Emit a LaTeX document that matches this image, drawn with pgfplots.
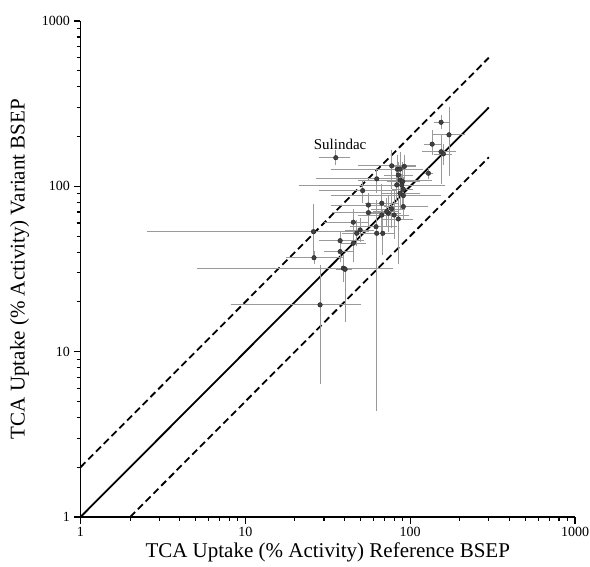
\documentclass[border=0pt]{standalone}
\usepackage{pgfplots}
\usepackage{pgfplotstable}
\pgfplotsset{compat=1.18}
\usepackage{fontspec}
\setmainfont{Liberation Serif}

% x y xlo xhi ylo yhi (end points of the error bars)
\pgfplotstableread{
x     y     xlo   xhi   ylo   yhi
35.4  149   29.1  41.8  139   160
154   244   144   167   229   259
172   205   140   206   120   290
136   180   126   148   160   210
154   162   123   183   107   200
159   157   145   172   140   175
129   120   126   133   115   125
77.3  133   49.7  104.5 100   160
83.6  127   34.5  115   105   150
86.8  127   75    100   95    155
92.2  132   80    105   115   150
84.8  117   72    100   100   135
62.7  111   27.7  86.8  95    125
86.8  109   50    130   90    125
90.2  107   75    110   80    135
82.9  102   22.0  156   85    120
51.5  94.2  29.1  79.1  82.7  104
90.9  87.9  34.2  148   70    110
86.8  90.8  70    110   75    105
90.9  96    80    100   85    108
55.8  77.1  34.5  70    68    88
67.3  79.1  55    82    60    100
90.9  75.4  72.1  123   65    88
55.8  69.3  35    75    60    80
67.3  67.1  50    90    52    85
73.8  68.8  60    85    55    85
79.9  67.1  65    95    50    90
84.8  63.5  70    100   35    100
77.3  73    60    90    58    92
45.2  60.7  31.2  54.5  52    70
62.1  57.0  45    80    40    80
49.7  54.5  42    58    48    62
47.4  52.0  40    55    45    60
25.9  53.2  2.64  54.5  37.6  75.4
62.7  52.0  55    72    4.56  75
68.2  52.0  60    78    40    70
37.6  46.9  29.1  50.8  42    52
45.2  45.3  39.3  52.0  35.9  52
37.6  40.3  31.2  44.2  36    45
26.1  37.0  18.2  37.6  35    39
39.3  32.0  5.31  75.5  27.2  37.6
40.3  31.5  37    43    15.7  32
28.4  19.2  8.46  48.5  6.65  32.2
88.9  102   75    105   90    115
72.1  70.4  62    82    60    82
}\bsep

\begin{document}
\begin{tikzpicture}
\path[use as bounding box] (-80.5pt,-49pt) rectangle (509.5pt,517pt);
\begin{axis}[
    scale only axis,
    width=494.5pt, height=496pt,
    xmode=log, ymode=log,
    xmin=1, xmax=1000, ymin=1, ymax=1000,
    axis lines*=left,
    axis line style={line width=1.3pt, -},
    tick align=outside,
    major tick length=7pt,
    minor tick length=4pt,
    every tick/.style={black, line width=1.1pt},
    xtick={1,10,100,1000}, xticklabels={1,10,100,1000},
    ytick={1,10,100,1000}, yticklabels={1,10,100,1000},
    minor xtick={2,3,4,5,6,7,8,9,20,30,40,50,60,70,80,90,200,300,400,500,600,700,800,900},
    minor ytick={2,3,4,5,6,7,8,9,20,30,40,50,60,70,80,90,200,300,400,500,600,700,800,900},
    /pgf/number format/assume math mode=true,
    tick label style={font=\fontsize{14}{16}\selectfont},
    xlabel={TCA Uptake (\% Activity) Reference BSEP},
    ylabel={TCA Uptake (\% Activity) Variant BSEP},
    every axis x label/.style={at={(axis description cs:0.5,-0.0706)}, anchor=center,
        font=\fontsize{21}{23}\selectfont},
    every axis y label/.style={at={(axis description cs:-0.123,0.5)}, rotate=90, anchor=center,
        font=\fontsize{21}{23}\selectfont},
    clip=false,
]
\addplot[black, line width=1.8pt] coordinates {(1,1) (300,300)};
\addplot[black, line width=1.8pt, dash pattern=on 7pt off 4pt] coordinates {(1,2) (300,600)};
\addplot[black, line width=1.8pt, dash pattern=on 7pt off 4pt] coordinates {(2,1) (300,150)};

\addplot[only marks, mark=*, mark size=2.3pt,
    mark options={fill=black!75, draw=black!85},
    error bars/.cd,
      x dir=both, y dir=both, x explicit, y explicit,
      error bar style={black!40, line width=0.8pt},
      error mark options={black!40, line width=0.8pt, mark size=2.6pt},
  ] table[x=x, y=y,
    x error plus expr=\thisrow{xhi}-\thisrow{x},
    x error minus expr=\thisrow{x}-\thisrow{xlo},
    y error plus expr=\thisrow{yhi}-\thisrow{y},
    y error minus expr=\thisrow{y}-\thisrow{ylo}] {\bsep};

\node[font=\fontsize{15}{17}\selectfont] at (axis cs:37.6,180) {Sulindac};
\end{axis}
\end{tikzpicture}
\end{document}
